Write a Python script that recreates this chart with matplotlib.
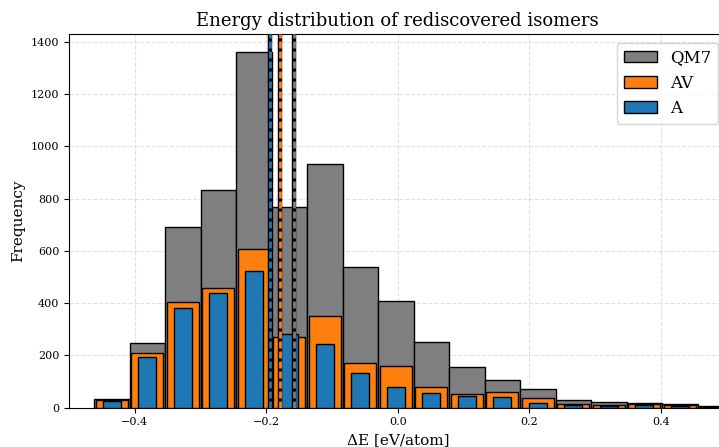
"""
Energy distribution of rediscovered isomers — histogram recreation
"""
import numpy as np
import matplotlib
matplotlib.use("Agg")
import matplotlib.pyplot as plt

# ---------------------------------------------------------------------------
# Data
# ---------------------------------------------------------------------------
bin_edges = [-0.462, -0.408, -0.354, -0.300, -0.246, -0.192, -0.138, -0.084,
             -0.030, 0.024, 0.078, 0.132, 0.186, 0.240, 0.294, 0.348,
             0.402, 0.456, 0.510]

counts_qm7 = [32, 246, 692, 833, 1362, 767, 931, 537, 409, 250, 157, 105,
              70, 31, 23, 19, 13, 8]
counts_av = [29, 208, 405, 459, 606, 269, 352, 170, 160, 79, 52, 60,
             36, 15, 9, 15, 9, 3]
counts_a = [25, 193, 380, 440, 524, 282, 244, 132, 79, 55, 45, 41,
            18, 11, 7, 11, 5, 2]

mean_qm7 = -0.1576
mean_av = -0.1789
mean_a = -0.1947

series = [
    ("QM7", counts_qm7, mean_qm7, "#7f7f7f", 1.0),
    ("AV",  counts_av,  mean_av,  "#ff7f0e", 0.9),
    ("A",   counts_a,   mean_a,   "#1f77b4", 0.5),
]

# ---------------------------------------------------------------------------
# Plot
# ---------------------------------------------------------------------------
plt.rcParams["font.family"] = ["DejaVu Serif"]
plt.rcParams["axes.unicode_minus"] = True

fig = plt.figure(figsize=(7.19, 4.47), dpi=100)
ax = fig.add_axes([0.0960, 0.088, 0.9145, 0.835])

centers = [(lo + hi) / 2 for lo, hi in zip(bin_edges[:-1], bin_edges[1:])]

for i, (name, counts, mean, color, rw) in enumerate(series):
    ax.hist(centers, bins=bin_edges, weights=counts, rwidth=rw,
            color=color, edgecolor="black", linewidth=1.0,
            label=name, zorder=2 + i)

# mean markers: black line under a coloured dashed line
for i, (name, counts, mean, color, rw) in enumerate(series):
    ax.axvline(mean, color="black", linewidth=3.2, zorder=6)
    ax.axvline(mean, color=color, linewidth=2.0, dashes=(2.5, 1.1), zorder=7)

ax.set_xlim(-0.5, 0.5)
ax.set_ylim(0, 1428)
ax.set_xticks([-0.4, -0.2, 0.0, 0.2, 0.4])
ax.set_yticks(range(0, 1401, 200))
ax.tick_params(labelsize=8)
ax.grid(True, linestyle="--", color="#cccccc", alpha=0.6, zorder=0)
ax.set_axisbelow(True)

ax.set_title("Energy distribution of rediscovered isomers", fontsize=13)
ax.set_xlabel("ΔE [eV/atom]", fontsize=11)
ax.set_ylabel("Frequency", fontsize=11)

handles, labels = ax.get_legend_handles_labels()
ax.legend(handles, labels, loc="upper right", fontsize=12)

fig.savefig("out.png", dpi=100)
